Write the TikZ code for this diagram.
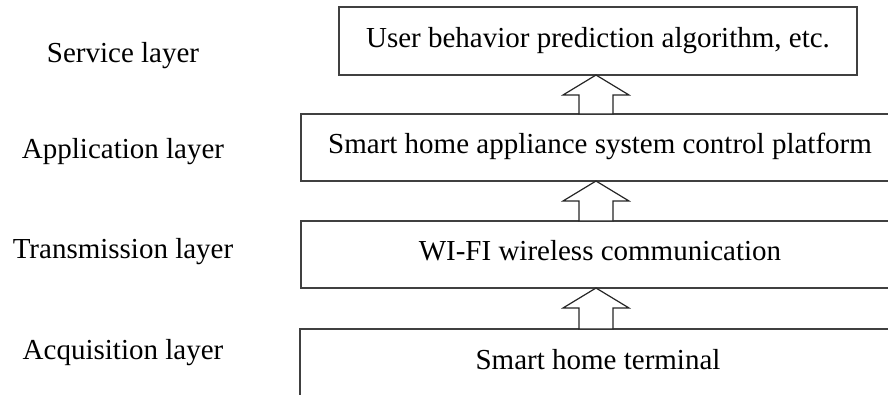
\documentclass[tikz,border=0pt]{standalone}
\usepackage{fontspec}
\setmainfont{Liberation Serif}
\usetikzlibrary{calc}

\tikzset{
  layerbox/.style={draw=black!75, line width=1.2pt, fill=none, inner sep=0pt, outer sep=0pt},
  boxtext/.style={anchor=base, inner sep=0pt, font=\fontsize{29}{34}\selectfont},
  layertext/.style={anchor=base, inner sep=0pt, font=\fontsize{29}{34}\selectfont},
  blockarrow/.style={draw=black!85, line width=1.2pt, fill=white, line join=miter},
}

\begin{document}
\begin{tikzpicture}[x=1pt, y=-1pt]
  \useasboundingbox (0,0) rectangle (888,394);
  \clip (0,0) rectangle (888,394);

  % layer boxes (the lower three run past the right margin)
  \node[layerbox, minimum width=518pt, minimum height=68pt] (b1) at (598,41) {};
  \node[layerbox, minimum width=599pt, minimum height=67pt] (b2) at (600.5,147.5) {};
  \node[layerbox, minimum width=599pt, minimum height=67pt] (b3) at (600.5,254.5) {};
  \node[layerbox, minimum width=600pt, minimum height=101pt] (b4) at (600,379.5) {};

  % box contents
  \node[boxtext] (t1) at (598,47) {User behavior prediction algorithm, etc.};
  \node[boxtext] (t2) at (600,153) {Smart home appliance system control platform};
  \node[boxtext] (t3) at (600,260) {WI-FI wireless communication};
  \node[boxtext] (t4) at (598,369) {Smart home terminal};

  % layer names
  \node[layertext] (l1) at (123,62) {Service layer};
  \node[layertext] (l2) at (123,158) {Application layer};
  \node[layertext] (l3) at (123,258) {Transmission layer};
  \node[layertext] (l4) at (123,359) {Acquisition layer};

  % hollow block arrows pointing upward between layers
  \coordinate (ax) at (596,0);
  \foreach \lo/\hi in {b2/b1, b3/b2, b4/b3}{
    \draw[blockarrow]
      (\hi.south -| ax) -- ++(33,20) -- ++(-16,0)
      -- ($(\lo.north -| ax)+(17,0)$)
      -- ($(\lo.north -| ax)+(-17,0)$)
      |- ($(\hi.south -| ax)+(-33,20)$) -- cycle;
  }
\end{tikzpicture}
\end{document}
